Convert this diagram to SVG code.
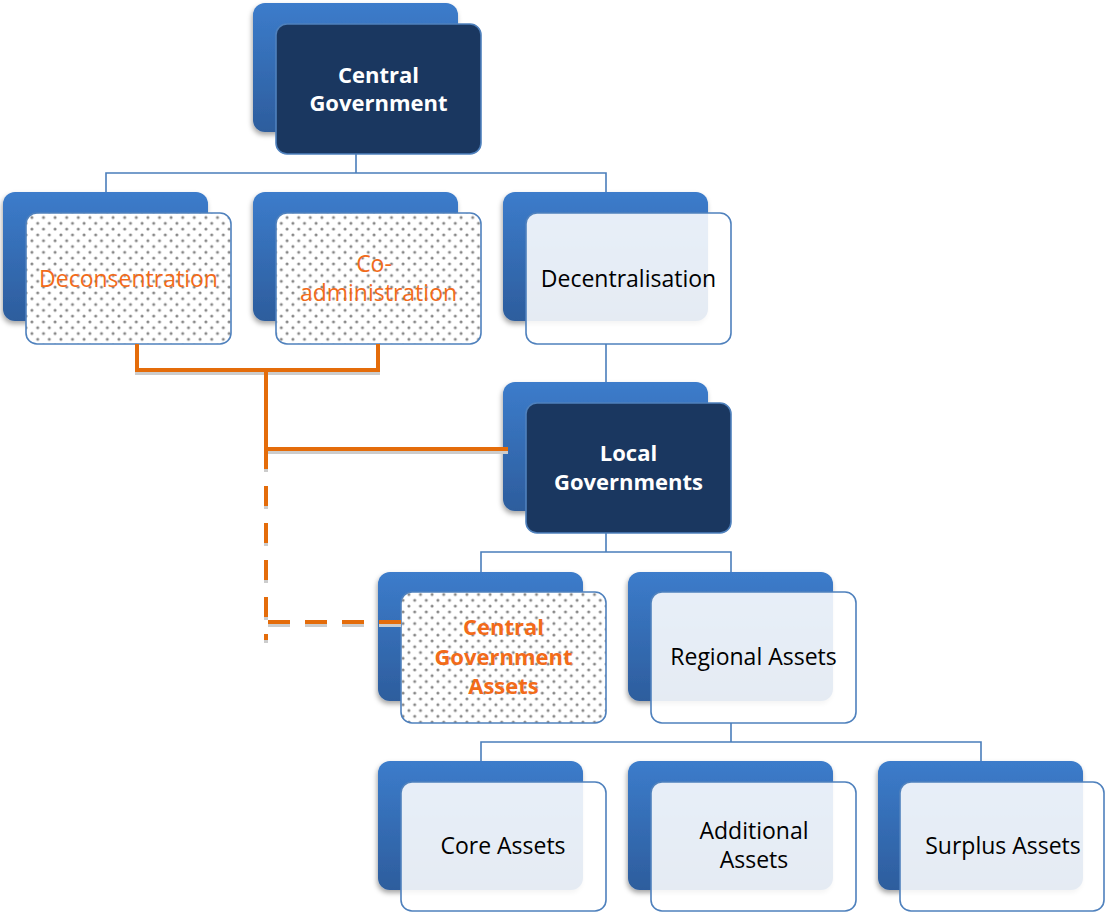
<svg xmlns="http://www.w3.org/2000/svg" width="1106" height="913" viewBox="0 0 1106 913">
  <defs>
    <linearGradient id="backFill" x1="0" y1="0" x2="0" y2="1">
      <stop offset="0" stop-color="#3c7ccb"/>
      <stop offset="1" stop-color="#2d5d9d"/>
    </linearGradient>
    <pattern id="dots" width="11.6" height="11.6" patternUnits="userSpaceOnUse">
      <rect width="11.6" height="11.6" fill="#ffffff"/>
      <circle cx="2.9" cy="2.9" r="1.5" fill="#868686"/>
      <circle cx="8.7" cy="8.7" r="1.5" fill="#868686"/>
    </pattern>
    <filter id="softShadow" x="-10%" y="-10%" width="125%" height="130%">
      <feDropShadow dx="-1" dy="3" stdDeviation="2.5" flood-color="#000000" flood-opacity="0.35"/>
    </filter>
  </defs>
  <style>
    .back { fill: url(#backFill); filter: url(#softShadow); }
    .front { stroke: #4f81bd; stroke-width: 1.6; }
    .dark { fill: #1a3760; }
    .light { fill: #ffffff; fill-opacity: 0.88; }
    .dotted { fill: url(#dots); }
    text { font-family: "Open Sans", "Liberation Sans", sans-serif; text-anchor: middle; }
    .bold-white { font-size: 22px; font-weight: bold; fill: #ffffff; }
    .bold-orange { font-size: 22px; font-weight: bold; fill: #f26b1a; }
    .reg-orange { font-size: 23px; fill: #f26b1a; }
    .reg-black { font-size: 23px; fill: #000000; }
    .tree { fill: none; stroke: #4a7ebb; stroke-width: 1.6; }
    .link { fill: none; stroke: #e46c0a; stroke-width: 4; }
    .link-shade { fill: none; stroke: #cccccc; stroke-width: 4; }
  </style>

  <g id="central-government">
    <rect class="back" x="253" y="3" width="205" height="129" rx="12"/>
    <rect class="front dark" x="276" y="24" width="205" height="130" rx="11"/>
    <text class="bold-white" x="378.5" y="83">Central</text>
    <text class="bold-white" x="378.5" y="111">Government</text>
  </g>

  <g id="deconsentration">
    <rect class="back" x="3" y="192" width="205" height="129" rx="12"/>
    <rect class="front dotted" x="26" y="213" width="205" height="131" rx="11"/>
    <text class="reg-orange" x="128.5" y="287">Deconsentration</text>
  </g>

  <g id="co-administration">
    <rect class="back" x="253" y="192" width="205" height="129" rx="12"/>
    <rect class="front dotted" x="276" y="213" width="205" height="131" rx="11"/>
    <text class="reg-orange" x="374" y="272">Co-</text>
    <text class="reg-orange" x="378.5" y="301">administration</text>
  </g>

  <g id="decentralisation">
    <rect class="back" x="503" y="192" width="205" height="129" rx="12"/>
    <rect class="front light" x="526" y="213" width="205" height="131" rx="11"/>
    <text class="reg-black" x="628.5" y="287">Decentralisation</text>
  </g>

  <g id="local-governments">
    <rect class="back" x="503" y="382" width="205" height="129" rx="12"/>
    <rect class="front dark" x="526" y="403" width="205" height="130" rx="11"/>
    <text class="bold-white" x="628.5" y="461">Local</text>
    <text class="bold-white" x="628.5" y="490">Governments</text>
  </g>

  <g id="central-government-assets">
    <rect class="back" x="378" y="572" width="205" height="129" rx="12"/>
    <rect class="front dotted" x="401" y="592" width="205" height="131" rx="11"/>
    <text class="bold-orange" x="503.5" y="635">Central</text>
    <text class="bold-orange" x="503.5" y="665">Government</text>
    <text class="bold-orange" x="503.5" y="694">Assets</text>
  </g>

  <g id="regional-assets">
    <rect class="back" x="628" y="572" width="205" height="129" rx="12"/>
    <rect class="front light" x="651" y="592" width="205" height="131" rx="11"/>
    <text class="reg-black" x="753.5" y="665">Regional Assets</text>
  </g>

  <g id="core-assets">
    <rect class="back" x="378" y="761" width="205" height="129" rx="12"/>
    <rect class="front light" x="401" y="782" width="205" height="129" rx="11"/>
    <text class="reg-black" x="503" y="854">Core Assets</text>
  </g>

  <g id="additional-assets">
    <rect class="back" x="628" y="761" width="205" height="129" rx="12"/>
    <rect class="front light" x="651" y="782" width="205" height="129" rx="11"/>
    <text class="reg-black" x="754" y="839">Additional</text>
    <text class="reg-black" x="754" y="868">Assets</text>
  </g>

  <g id="surplus-assets">
    <rect class="back" x="878" y="761" width="205" height="129" rx="12"/>
    <rect class="front light" x="900" y="782" width="204" height="129" rx="11"/>
    <text class="reg-black" x="1003" y="854">Surplus Assets</text>
  </g>

  <g id="connectors">
    <!-- hierarchy lines -->
    <path class="tree" d="M356,154V173M106,192V173H606V192"/>
    <path class="tree" d="M606,344V382"/>
    <path class="tree" d="M606,533V552M481,572V552H731V572"/>
    <path class="tree" d="M731,723V742M481,761V742H981V761"/>

    <!-- shading under the orange links -->
    <g transform="translate(0,3)">
      <path class="link-shade" d="M137,344V370H378V344"/>
      <path class="link-shade" d="M266,370V449H508"/>
      <path class="link-shade" d="M266,449V640" stroke-dasharray="20 17"/>
      <path class="link-shade" d="M268,622H403" stroke-dasharray="22 15"/>
    </g>

    <!-- orange links -->
    <path class="link" d="M137,344V370H378V344"/>
    <path class="link" d="M266,370V449H508"/>
    <path class="link" d="M266,449V640" stroke-dasharray="20 17"/>
    <path class="link" d="M268,622H403" stroke-dasharray="22 15"/>
  </g>
</svg>
